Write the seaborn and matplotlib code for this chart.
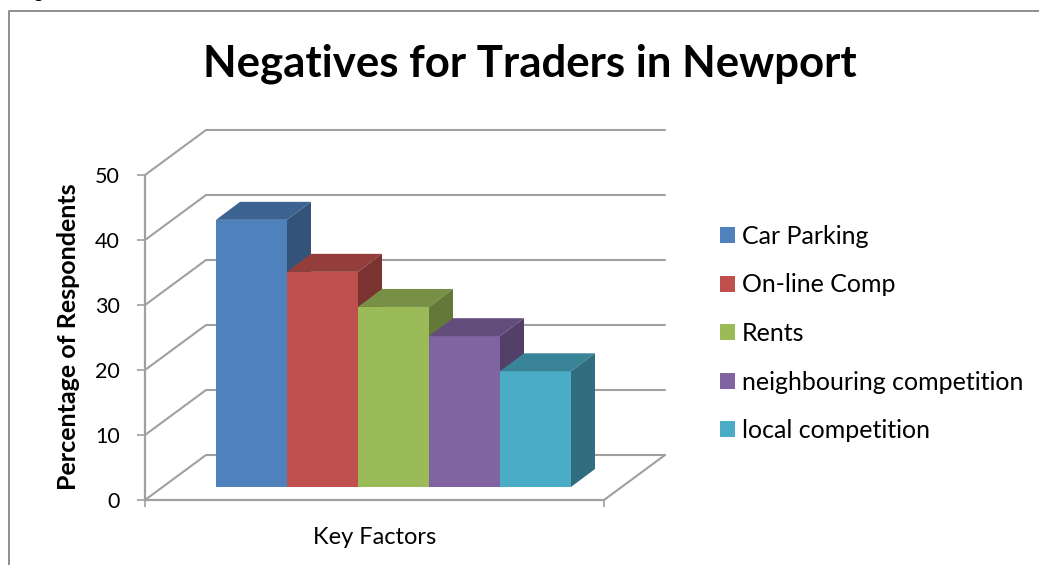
import matplotlib
matplotlib.use("Agg")
import matplotlib.pyplot as plt
from matplotlib.colors import to_rgb
from matplotlib.lines import Line2D
from matplotlib.patches import Polygon
import seaborn as sns

factors = ["Car Parking", "On-line Comp", "Rents", "neighbouring competition", "local competition"]
percentages = [41.1, 33.1, 27.7, 23.2, 17.8]
colours = ["#4F81BD", "#C0504D", "#9BBB59", "#8064A2", "#4BACC6"]
axis_levels = [0, 10, 20, 30, 40, 50]

W, H = 1039, 565
GREY = "#A0A0A0"
sns.set_theme(style="white")
plt.rcParams["font.family"] = ["Lato", "DejaVu Sans"]
plt.rcParams["text.color"] = "black"

fig = plt.figure(figsize=(W / 100, H / 100), dpi=100)


def rect(left, right, top, bottom):
    return [left / W, 1 - bottom / H, (right - left) / W, (bottom - top) / H]


# Front plane: value axis and category axis
frame = fig.add_axes(rect(145, 604, 175, 500))
frame.set_xlim(0, 1)
frame.set_ylim(0, 50)
frame.patch.set_alpha(0)
for side in ("top", "right"):
    frame.spines[side].set_visible(False)
for side in ("left", "bottom"):
    frame.spines[side].set_color(GREY)
    frame.spines[side].set_linewidth(1.6)
frame.set_yticks(axis_levels)
frame.set_xticks([0, 1])
frame.set_xticklabels(["", ""])
frame.tick_params(axis="y", length=6, width=1.2, color=GREY, pad=12, labelsize=15.5, left=True, labelcolor="black")
frame.tick_params(axis="x", length=5, width=1.2, color=GREY, bottom=True)
frame.set_xlabel("Key Factors", fontsize=17, labelpad=11, color="black")
frame.set_ylabel("Percentage of Respondents", fontsize=18, fontweight="bold", color="black")
frame.yaxis.set_label_coords((80 - 145) / 459, 0.502)

# Receding side wall and back wall gridlines
wall_dx = 61 / 459
wall_dy = 45 / 6.5
for level in axis_levels:
    frame.add_line(Line2D([0, wall_dx, 1 + wall_dx],
                          [level, level + wall_dy, level + wall_dy],
                          color=GREY, lw=1.5, clip_on=False, zorder=1))
frame.add_line(Line2D([1, 1 + wall_dx], [0, wall_dy], color=GREY, lw=1.5, clip_on=False, zorder=1))

# Bars, standing a little behind the front plane
bars = fig.add_axes(rect(216, 571, 162, 487))
bars.patch.set_alpha(0)
sns.barplot(x=factors, y=percentages, hue=factors, palette=colours, width=1, dodge=False,
            saturation=1, legend=True, ax=bars)
bars.set_xlim(-0.5, 4.5)
bars.set_ylim(0, 50)
bars.set_xticks([])
bars.set_yticks([])
bars.set_xlabel("")
bars.set_ylabel("")
sns.despine(ax=bars, left=True, bottom=True)

# Top and right faces of each bar, offset by the bar depth
bar_dx = 24 / 71
bar_dy = 18 / 6.5
for i, (value, colour) in enumerate(zip(percentages, colours)):
    base = 4 + 3 * i
    rgb = to_rgb(colour)
    bars.containers[i][0].set(zorder=base, clip_on=False, linewidth=0)
    top = Polygon([(i - 0.5, value), (i + 0.5, value), (i + 0.5 + bar_dx, value + bar_dy), (i - 0.5 + bar_dx, value + bar_dy)],
                  closed=True, facecolor=[c * 0.77 for c in rgb], edgecolor="none", clip_on=False, zorder=base + 1)
    side = Polygon([(i + 0.5, 0), (i + 0.5 + bar_dx, bar_dy), (i + 0.5 + bar_dx, value + bar_dy), (i + 0.5, value)],
                   closed=True, facecolor=[c * 0.64 for c in rgb], edgecolor="none", clip_on=False, zorder=base + 1)
    bars.add_patch(top)
    bars.add_patch(side)

# Legend to the right of the plot
legend = bars.legend(loc="upper left", bbox_to_anchor=((720 - 216) / 355, (487 - 225) / 325), frameon=False,
                     fontsize=18, handlelength=0.6, handleheight=0.6, handletextpad=0.28,
                     labelspacing=1.02, borderpad=0, borderaxespad=0)
for handle in legend.legend_handles:
    handle.set_linewidth(0)

fig.text(530 / W, 1 - 64 / H, "Negatives for Traders in Newport", fontsize=31.5,
         fontweight="bold", ha="center", va="center", color="black")

# Chart area border (left and top edges) and the caption line above it
fig.add_artist(Line2D([9 / W, 9 / W, 1], [0, 1 - 10.5 / H, 1 - 10.5 / H], color="#868686", lw=1.3))
fig.text(18 / W, 1 + 2 / H, "Figure", fontsize=14, ha="left", va="baseline", color="black")

fig.savefig("out.png", dpi=100, facecolor="white")
